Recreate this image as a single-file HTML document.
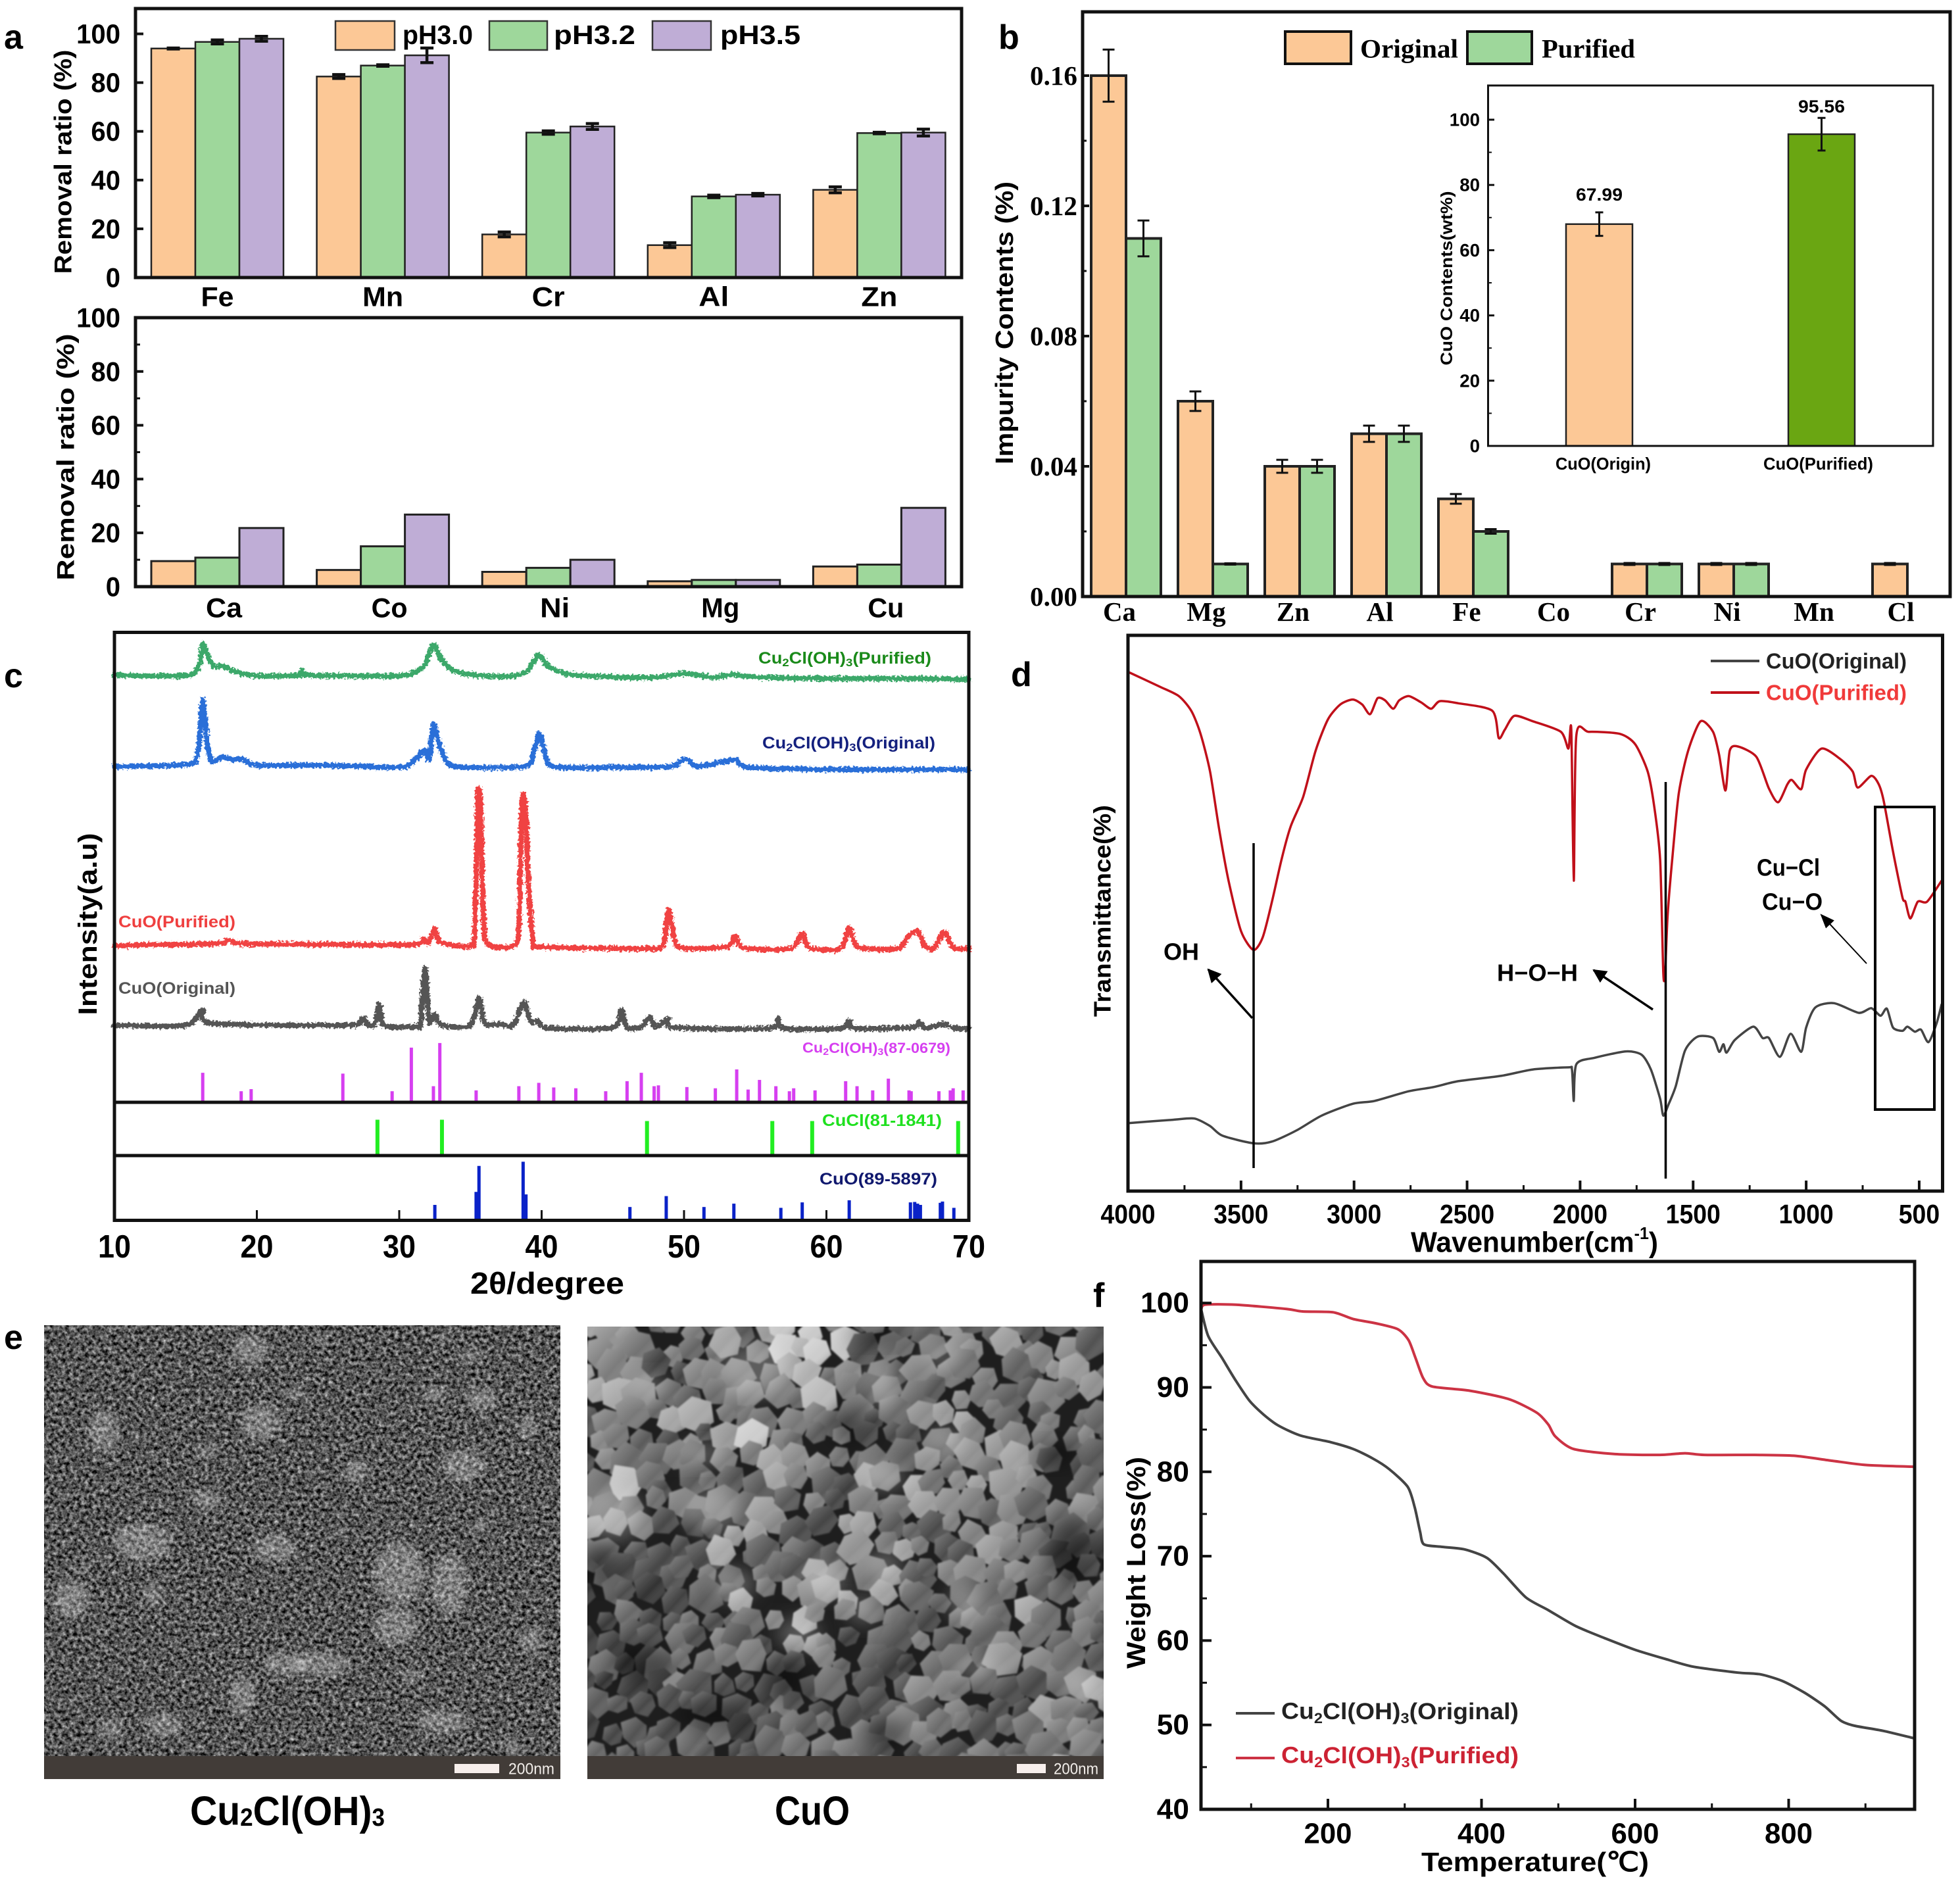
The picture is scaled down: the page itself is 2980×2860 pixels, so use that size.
<!DOCTYPE html>
<html lang="en">
<head>
<meta charset="utf-8">
<title>Multi-panel materials characterization figure</title>
<style>
html,body{margin:0;padding:0;background:#fff;}
svg{display:block;}
text{font-family:"Liberation Sans",Arial,sans-serif;dominant-baseline:central;}
.b{font-weight:bold;}
.serif{font-family:"Liberation Serif","Times New Roman",serif;font-weight:bold;}
</style>
</head>
<body>
<svg id="fig" xmlns="http://www.w3.org/2000/svg" width="2980" height="2860" viewBox="0 0 2980 2860">
<defs>
<filter id="grain" x="0" y="0" width="100%" height="100%" color-interpolation-filters="sRGB">
<feTurbulence type="fractalNoise" baseFrequency="0.17" numOctaves="3" seed="7"/>
<feColorMatrix type="matrix" values="1.15 0 0 0 -0.24  1.15 0 0 0 -0.24  1.15 0 0 0 -0.24  0 0 0 0 1"/>
</filter>
<filter id="soft" x="-50%" y="-50%" width="200%" height="200%"><feGaussianBlur stdDeviation="5"/></filter>
<filter id="softWide" x="-50%" y="-50%" width="200%" height="200%"><feGaussianBlur stdDeviation="14"/></filter>
<filter id="soft1" x="-5%" y="-5%" width="110%" height="110%"><feGaussianBlur stdDeviation="1.2"/></filter>
<filter id="rough" x="-2%" y="-30%" width="104%" height="160%" color-interpolation-filters="sRGB">
<feTurbulence type="fractalNoise" baseFrequency="0.28" numOctaves="2" seed="4" result="n"/>
<feDisplacementMap in="SourceGraphic" in2="n" scale="9" xChannelSelector="R" yChannelSelector="G"/>
</filter>
<linearGradient id="shade" x1="0" y1="0" x2="1" y2="1">
<stop offset="0" stop-color="#fff" stop-opacity=".3"/>
<stop offset=".55" stop-color="#fff" stop-opacity="0"/>
<stop offset="1" stop-color="#000" stop-opacity=".45"/>
</linearGradient>
<clipPath id="clipL"><rect x="67" y="2015" width="785" height="655"/></clipPath>
<clipPath id="clipR"><rect x="893" y="2017" width="785" height="653"/></clipPath>
<marker id="arrowHead" viewBox="0 0 10 10" refX="9" refY="5" markerWidth="6" markerHeight="6" orient="auto"><path d="M0 0L10 5L0 10z" fill="#000"/></marker>
<marker id="arrowHeadThin" viewBox="0 0 10 10" refX="9" refY="5" markerWidth="11" markerHeight="11" orient="auto"><path d="M0 1L10 5L0 9z" fill="#000"/></marker>
</defs>
<rect x="0" y="0" width="2980" height="2860" fill="#fff"/>

<!-- SEM images -->
<g clip-path="url(#clipL)">
<rect x="67" y="2015" width="785" height="655" filter="url(#grain)"/>
<g id="semLeftBlobs"></g>
</g>
<rect x="67" y="2670" width="785" height="35" fill="#423c38"/>
<rect x="691" y="2682" width="68" height="14" fill="#f7efec"/>
<text x="773" y="2690" font-size="24" fill="#f2eeea" textLength="70" lengthAdjust="spacingAndGlyphs">200nm</text>
<g clip-path="url(#clipR)">
<rect x="893" y="2017" width="785" height="653" fill="#1e1e1e"/>
<g id="semRight" filter="url(#soft1)"></g>
<g id="semRightLight"></g>
</g>
<rect x="893" y="2670" width="785" height="35" fill="#423c38"/>
<rect x="1546" y="2682" width="44" height="14" fill="#f7efec"/>
<text x="1602" y="2690" font-size="24" fill="#f2eeea" textLength="68" lengthAdjust="spacingAndGlyphs">200nm</text>
<text class="b" x="289" y="2754" font-size="62" textLength="296" lengthAdjust="spacingAndGlyphs">Cu<tspan font-size="38" dy="10">2</tspan><tspan dy="-10">Cl(OH)</tspan><tspan font-size="38" dy="10">3</tspan></text>
<text class="b" x="1178" y="2754" font-size="62" textLength="114" lengthAdjust="spacingAndGlyphs">CuO</text>

<!-- panel letters -->
<text class="b" x="6" y="57" font-size="52">a</text>
<text class="b" x="1518" y="57" font-size="52">b</text>
<text class="b" x="6" y="1028" font-size="52">c</text>
<text class="b" x="1537" y="1026" font-size="52">d</text>
<text class="b" x="6" y="2034" font-size="52">e</text>
<text class="b" x="1662" y="1970" font-size="52">f</text>

<!-- static titles: panel a -->
<text class="b" transform="translate(96,246) rotate(-90)" text-anchor="middle" font-size="37" textLength="341" lengthAdjust="spacingAndGlyphs">Removal ratio (%)</text>
<text class="b" transform="translate(100,695) rotate(-90)" text-anchor="middle" font-size="37" textLength="375" lengthAdjust="spacingAndGlyphs">Removal ratio (%)</text>
<g>
<rect x="510" y="32" width="90" height="44" fill="#FCC896" stroke="#333" stroke-width="2.5"/>
<text class="b" x="612" y="53" font-size="41" textLength="107" lengthAdjust="spacingAndGlyphs">pH3.0</text>
<rect x="744" y="32" width="88" height="44" fill="#9ED79B" stroke="#333" stroke-width="2.5"/>
<text class="b" x="842" y="53" font-size="41" textLength="124" lengthAdjust="spacingAndGlyphs">pH3.2</text>
<rect x="992" y="32" width="89" height="44" fill="#BFADD6" stroke="#333" stroke-width="2.5"/>
<text class="b" x="1095" y="53" font-size="41" textLength="122" lengthAdjust="spacingAndGlyphs">pH3.5</text>
</g>

<!-- static titles: panel b -->
<text class="b" transform="translate(1528,491) rotate(-90)" text-anchor="middle" font-size="38" textLength="430" lengthAdjust="spacingAndGlyphs">Impurity Contents (%)</text>
<g>
<rect x="1954" y="48" width="100" height="49" fill="#FCC896" stroke="#111" stroke-width="4"/>
<text class="serif" x="2068" y="74" font-size="40" textLength="149" lengthAdjust="spacingAndGlyphs">Original</text>
<rect x="2231" y="48" width="98" height="49" fill="#9ED79B" stroke="#111" stroke-width="4"/>
<text class="serif" x="2344" y="74" font-size="40" textLength="142" lengthAdjust="spacingAndGlyphs">Purified</text>
</g>
<text class="b" transform="translate(2200,423) rotate(-90)" text-anchor="middle" font-size="25" textLength="265" lengthAdjust="spacingAndGlyphs">CuO Contents(wt%)</text>

<!-- static titles: panel c -->
<text class="b" x="832" y="1951" text-anchor="middle" font-size="46" textLength="234" lengthAdjust="spacingAndGlyphs">2θ/degree</text>
<text class="b" transform="translate(134,1405) rotate(-90)" text-anchor="middle" font-size="40" textLength="277" lengthAdjust="spacingAndGlyphs">Intensity(a.u)</text>
<text class="b" x="1153" y="1001" font-size="25" fill="#1a8a1a" textLength="263" lengthAdjust="spacingAndGlyphs">Cu<tspan font-size="17" dy="6">2</tspan><tspan dy="-6">Cl(OH)</tspan><tspan font-size="17" dy="6">3</tspan><tspan dy="-6">(Purified)</tspan></text>
<text class="b" x="1159" y="1130" font-size="25" fill="#14207e" textLength="263" lengthAdjust="spacingAndGlyphs">Cu<tspan font-size="17" dy="6">2</tspan><tspan dy="-6">Cl(OH)</tspan><tspan font-size="17" dy="6">3</tspan><tspan dy="-6">(Original)</tspan></text>
<text class="b" x="180" y="1402" font-size="25" fill="#ef3f3f" textLength="178" lengthAdjust="spacingAndGlyphs">CuO(Purified)</text>
<text class="b" x="180" y="1503" font-size="25" fill="#555" textLength="178" lengthAdjust="spacingAndGlyphs">CuO(Original)</text>
<text class="b" x="1220" y="1593" font-size="22" fill="#d63ff0" textLength="225" lengthAdjust="spacingAndGlyphs">Cu<tspan font-size="15" dy="6">2</tspan><tspan dy="-6">Cl(OH)</tspan><tspan font-size="15" dy="6">3</tspan><tspan dy="-6">(87-0679)</tspan></text>
<text class="b" x="1250" y="1704" font-size="25" fill="#1fe01f" textLength="182" lengthAdjust="spacingAndGlyphs">CuCl(81-1841)</text>
<text class="b" x="1246" y="1793" font-size="25" fill="#10186e" textLength="179" lengthAdjust="spacingAndGlyphs">CuO(89-5897)</text>

<!-- static titles: panel d -->
<text class="b" x="2145" y="1889" font-size="44" textLength="376" lengthAdjust="spacingAndGlyphs">Wavenumber(cm<tspan font-size="26" dy="-14">-1</tspan><tspan dy="14">)</tspan></text>
<text class="b" transform="translate(1676,1385) rotate(-90)" text-anchor="middle" font-size="36" textLength="322" lengthAdjust="spacingAndGlyphs">Transmittance(%)</text>
<g>
<line x1="2601" y1="1005" x2="2675" y2="1005" stroke="#444" stroke-width="4"/>
<text class="b" x="2685" y="1005" font-size="33" fill="#222" textLength="214" lengthAdjust="spacingAndGlyphs">CuO(Original)</text>
<line x1="2601" y1="1053" x2="2675" y2="1053" stroke="#c0101a" stroke-width="4"/>
<text class="b" x="2685" y="1053" font-size="33" fill="#f03a3a" textLength="214" lengthAdjust="spacingAndGlyphs">CuO(Purified)</text>
</g>
<text class="b" x="1769" y="1447" font-size="36" textLength="54" lengthAdjust="spacingAndGlyphs">OH</text>
<text class="b" x="2276" y="1479" font-size="36" textLength="123" lengthAdjust="spacingAndGlyphs">H−O−H</text>
<text class="b" x="2671" y="1319" font-size="36" textLength="96" lengthAdjust="spacingAndGlyphs">Cu−Cl</text>
<text class="b" x="2679" y="1371" font-size="36" textLength="92" lengthAdjust="spacingAndGlyphs">Cu−O</text>

<!-- static titles: panel f -->
<text class="b" x="2161" y="2831" font-size="41" textLength="346" lengthAdjust="spacingAndGlyphs">Temperature(℃)</text>
<text class="b" transform="translate(1728,2376) rotate(-90)" text-anchor="middle" font-size="40" textLength="322" lengthAdjust="spacingAndGlyphs">Weight Loss(%)</text>
<g>
<line x1="1879" y1="2605" x2="1938" y2="2605" stroke="#444" stroke-width="4"/>
<text class="b" x="1948" y="2602" font-size="35" fill="#222" textLength="361" lengthAdjust="spacingAndGlyphs">Cu<tspan font-size="22" dy="10">2</tspan><tspan dy="-10">Cl(OH)</tspan><tspan font-size="22" dy="10">3</tspan><tspan dy="-10">(Original)</tspan></text>
<line x1="1879" y1="2673" x2="1938" y2="2673" stroke="#cc3344" stroke-width="4"/>
<text class="b" x="1948" y="2669" font-size="35" fill="#cc2233" textLength="361" lengthAdjust="spacingAndGlyphs">Cu<tspan font-size="22" dy="10">2</tspan><tspan dy="-10">Cl(OH)</tspan><tspan font-size="22" dy="10">3</tspan><tspan dy="-10">(Purified)</tspan></text>
</g>
<g id="marks"></g>
</svg>

<script>
// ---- Panel a data ----
const aTopCategories = ['Fe','Mn','Cr','Al','Zn'];
const aTopPH30 = [94,82.5,17.7,13.3,36];
const aTopPH32 = [96.7,87,59.5,33.3,59.3];
const aTopPH35 = [98,91.2,62,34,59.5];
const aTopErr30 = [0.2,0.8,1,1,1.2];
const aTopErr32 = [0.8,0.3,0.7,0.5,0.3];
const aTopErr35 = [1,3,1.2,0.5,1.4];
const aBottomCategories = ['Ca','Co','Ni','Mg','Cu'];
const aBottomPH30 = [9.5,6.2,5.5,2,7.5];
const aBottomPH32 = [10.8,15,7,2.5,8.2];
const aBottomPH35 = [21.8,26.8,10,2.5,29.3];
const aTopTicks = [0,20,40,60,80,100];
const aBottomTicks = [0,20,40,60,80,100];
// ---- Panel b data ----
const bCategories = ['Ca','Mg','Zn','Al','Fe','Co','Cr','Ni','Mn','Cl'];
const bOriginal = [0.16,0.06,0.04,0.05,0.03,0,0.01,0.01,0,0.01];
const bPurified = [0.11,0.01,0.04,0.05,0.02,0,0.01,0.01,0,0];
const bErrOriginal = [0.008,0.003,0.002,0.0025,0.0015,0,0.0003,0.0003,0,0.0003];
const bErrPurified = [0.0055,0.0002,0.002,0.0025,0.0007,0,0.0003,0.0003,0,0];
const bTicks = [0,0.04,0.08,0.12,0.16];
const insetCategories = ['CuO(Origin)','CuO(Purified)'];
const insetValues = [67.99,95.56];
const insetErrors = [3.6,5];
const insetTicks = [0,20,40,60,80,100];
// ---- Panel c data: two-theta and intensity (a.u.) ----
const xrdTicks = [10,20,30,40,50,60,70];
const greenTheta = [10,14,15.5,16,16.2,16.5,17,17.6,18.5,20,23,23.2,23.4,28,30,31,31.8,32.4,33,34,36,38,39,39.8,40.5,42,45,48,50,52,53.5,55,60,65,70];
const greenInt = [1300,1298,1302,1330,1375,1350,1320,1322,1308,1298,1300,1312,1300,1298,1298,1305,1325,1372,1335,1308,1298,1298,1310,1348,1320,1302,1296,1294,1304,1295,1302,1295,1292,1292,1290];
const blueTheta = [10,14,15.6,15.95,16.2,16.45,16.8,17.6,18.2,19,20,25,30,31,31.8,32.1,32.4,32.7,33.2,34,38,39.2,39.8,40.2,40.8,45,49,50.1,51,53.5,54.5,60,65,70];
const blueInt = [1082,1085,1092,1140,1242,1160,1095,1105,1098,1100,1085,1085,1080,1095,1122,1100,1182,1150,1100,1082,1080,1090,1160,1120,1082,1080,1082,1100,1082,1098,1080,1075,1075,1075];
const redTheta = [10,17,18,19,25,31,31.7,32,32.5,32.8,34,35,35.3,35.5,35.6,35.7,35.95,36.4,38,38.4,38.6,38.75,38.9,39.05,39.4,40,47,48.5,48.9,49.3,49.8,53,53.6,54.2,57.5,58.3,58.8,61,61.6,62.2,65,65.7,66.4,66.9,67.5,68.3,68.9,70];
const redInt = [655,660,668,660,658,658,672,660,695,665,655,655,680,1000,1025,1000,700,655,655,700,980,1015,960,820,665,652,648,655,740,675,650,652,678,650,648,685,650,648,698,652,648,675,690,655,648,688,650,648];
const darkTheta = [10,15,16.2,16.8,25,27,27.5,27.8,28.3,28.6,28.9,31,31.5,31.8,32.1,32.5,33,35,35.6,36,37,38,38.75,39.2,39.7,40.5,45,45.6,46,47,47.6,48,48.9,49.3,56,56.6,57,61,61.6,62,66,66.5,67,68.2,69,70];
const darkInt = [465,465,502,470,465,467,482,465,470,515,465,462,470,602,475,490,465,465,530,470,468,465,520,475,475,458,460,502,460,462,485,462,480,460,458,482,458,458,475,458,460,472,458,468,458,458];
const magentaTheta = [16.2,18.9,19.6,26.04,29.5,30.85,32.4,32.85,35.4,38.4,39.8,40.85,42.4,44.5,46,47,47.9,48.2,50.2,52.2,53.7,54.5,55.3,56.45,57.4,57.7,59.2,61.35,62.15,63.25,64.35,65.8,65.95,67.9,68.7,68.9,69.6];
const magentaTop = [352,308,313,350,308,412,320,423,310,320,328,317,315,308,332,352,320,322,318,315,360,312,335,320,308,315,310,332,320,310,338,310,308,308,310,315,310];
const magentaBase = 284;
const limeTheta = [28.47,33,47.4,56.2,59,69.25];
const limeTop = [240,240,237,237,237,237];
const limeBase = 158;
const navyTheta = [32.5,35.4,35.6,38.7,38.9,46.2,48.75,51.4,53.5,56.8,58.3,61.6,65.9,66.2,66.4,66.6,68,68.15,68.95];
const navyTop = [37,68,130,140,62,32,58,32,40,30,43,48,43,44,40,37,42,45,30];
const navyBase = 2;
// ---- Panel d data: wavenumber and transmittance (a.u.) ----
const ftirTicks = [4000,3500,3000,2500,2000,1500,1000,500];
const ftirRedWave = [4000,3857,3775,3720,3679,3637,3596,3555,3500,3445,3404,3363,3321,3280,3225,3170,3115,3061,3006,2964,2929,2896,2863,2827,2800,2758,2703,2659,2621,2539,2388,2360,2333,2291,2209,2085,2052,2039,2028,2017,1962,1824,1756,1701,1673,1646,1632,1624,1613,1591,1563,1522,1467,1412,1385,1357,1338,1302,1220,1165,1124,1083,1063,1022,1000,932,849,794,772,712,679,657,616,574,561,539,506,465,401];
const ftirRedT = [1238,1202,1180,1145,1090,1000,860,740,620,575,605,690,790,870,940,1050,1125,1160,1172,1160,1137,1175,1170,1150,1170,1180,1165,1150,1168,1163,1145,1080,1100,1133,1120,1095,1055,1100,740,1085,1095,1090,1065,1000,920,790,520,520,655,800,950,1050,1120,1095,1040,955,1050,1060,1035,960,927,970,980,958,1005,1055,1030,1000,962,990,970,930,810,700,690,650,690,690,740];
const ftirBlackWave = [4000,3802,3706,3637,3582,3445,3363,3253,3143,3006,2909,2758,2648,2539,2346,2209,2052,2036,2028,2017,1934,1797,1728,1687,1646,1632,1610,1577,1536,1481,1412,1385,1366,1352,1316,1234,1193,1165,1116,1069,1022,1000,959,877,767,712,671,643,616,574,552,519,492,459,423,401];
const ftirBlackT = [162,170,173,155,132,114,118,145,180,208,215,238,248,262,275,290,295,290,215,302,318,333,325,290,220,180,205,250,335,368,365,332,350,330,360,392,365,365,320,375,332,390,438,448,425,436,418,435,390,382,392,380,385,355,400,445];
// ---- Panel f data: temperature and weight ----
const tgaXTicks = [200,400,600,800];
const tgaYTicks = [40,50,60,70,80,90,100];
const tgaBlackT = [35,44,62,80,98,116,135,164,204,233,258,280,304,313,320,325,349,378,407,429,458,487,523,560,600,640,676,734,763,792,821,847,868,886,923,964];
const tgaBlackW = [99.2,96.1,93.5,90.8,88.4,86.8,85.5,84.3,83.5,82.7,81.6,80.3,78.2,75.8,72.9,71.4,71.1,70.8,69.8,67.9,65.1,63.6,61.7,60.3,58.9,57.8,56.9,56.2,56,55.2,53.8,52.2,50.5,49.9,49.3,48.4];
const tgaRedT = [35,40,80,146,167,207,233,262,291,305,314,324,336,385,436,472,487,496,520,574,632,665,690,756,807,857,901,964];
const tgaRedW = [99.2,99.8,99.8,99.3,99,98.9,98.1,97.6,96.9,95.6,93.5,91.1,90.1,89.6,88.6,87,85.6,84.2,82.7,82.1,82,82.2,82,82,81.9,81.3,80.8,80.6];

const NS = 'http://www.w3.org/2000/svg';
const root = document.getElementById('marks');
function add(tag, attrs, name, parent) {
  const el = document.createElementNS(NS, tag);
  for (const k in attrs) el.setAttribute(k, attrs[k]);
  
  
  (parent || root).appendChild(el);
  return el;
}
function label(x, y, str, size, cls, anchor, len, name) {
  const a = {x: x, y: y, 'font-size': size, 'text-anchor': anchor, 'class': cls};
  if (len) { a.textLength = len; a.lengthAdjust = 'spacingAndGlyphs'; }
  const t = add('text', a, name);
  t.textContent = str;
  return t;
}
function tick(x1, y1, x2, y2, w, name) {
  add('line', {x1: x1, y1: y1, x2: x2, y2: y2, stroke: '#111', 'stroke-width': w}, name);
}
function frame(x, y, w, h, sw, name) {
  add('rect', {x: x, y: y, width: w, height: h, fill: 'none', stroke: '#111', 'stroke-width': sw}, name);
}
function bar(x, yTop, w, yBase, fill, sw, name) {
  add('rect', {x: x, y: yTop, width: w, height: yBase - yTop, fill: fill, stroke: '#222', 'stroke-width': sw}, name);
}
function errBar(cx, y1, y2, cap, sw, name) {
  add('path', {d: 'M' + (cx - cap) + ' ' + y1 + 'H' + (cx + cap) + 'M' + cx + ' ' + y1 + 'V' + y2 + 'M' + (cx - cap) + ' ' + y2 + 'H' + (cx + cap), fill: 'none', stroke: '#111', 'stroke-width': sw}, name);
}
// smooth path through the data points (Catmull-Rom segments)
function curve(xs, ys, xf, yf, color, sw, name, extra) {
  const px = xs.map(xf);
  const py = ys.map(yf);
  let d = 'M' + px[0].toFixed(1) + ' ' + py[0].toFixed(1);
  const k = 1 / 8;
  for (let i = 0; i < px.length - 1; i++) {
    const a = Math.max(i - 1, 0);
    const b = Math.min(i + 2, px.length - 1);
    const c1x = px[i] + (px[i + 1] - px[a]) * k;
    const c1y = py[i] + (py[i + 1] - py[a]) * k;
    const c2x = px[i + 1] - (px[b] - px[i]) * k;
    const c2y = py[i + 1] - (py[b] - py[i]) * k;
    d += 'C' + c1x.toFixed(1) + ' ' + c1y.toFixed(1) + ' ' + c2x.toFixed(1) + ' ' + c2y.toFixed(1) + ' ' + px[i + 1].toFixed(1) + ' ' + py[i + 1].toFixed(1);
  }
  const attrs = {d: d, fill: 'none', stroke: color, 'stroke-width': sw, 'stroke-linejoin': 'round', 'stroke-linecap': 'round'};
  if (extra) attrs.filter = extra;
  add('path', attrs, name);
}

// ---- Panel a ----
const PEACH = '#FCC896', GREEN = '#9ED79B', PURPLE = '#BFADD6';
const aX = function (g, s) { return 230 + g * 251.6 + s * 67; };
const aTopY = function (v) { return 422 - v * 3.705; };
const aBotY = function (v) { return 892 - v * 4.09; };
const aColors = [PEACH, GREEN, PURPLE];
[aTopPH30, aTopPH32, aTopPH35].forEach(function (series, s) {
  const errs = [aTopErr30, aTopErr32, aTopErr35][s];
  series.forEach(function (v, g) {
    bar(aX(g, s), aTopY(v), 67, 422, aColors[s], 2.5, 'bar-top-' + aTopCategories[g] + '-' + s);
    errBar(aX(g, s) + 33.5, aTopY(v + errs[g]), aTopY(v - errs[g]), 10, 4.5, 'error-bar-top-' + aTopCategories[g] + '-' + s);
  });
});
[aBottomPH30, aBottomPH32, aBottomPH35].forEach(function (series, s) {
  series.forEach(function (v, g) {
    bar(aX(g, s), aBotY(v), 67, 892, aColors[s], 3, 'bar-bottom-' + aBottomCategories[g] + '-' + s);
  });
});
frame(206, 13, 1256, 409, 5, 'a-top-plot-frame');
frame(206, 483, 1256, 409, 5, 'a-bottom-plot-frame');
aTopTicks.forEach(function (v) {
  tick(206, aTopY(v), 218, aTopY(v), 4, 'a-top-y-tick');
  label(183, aTopY(v), String(v), 42, 'b', 'end', String(v).length * 22.3, 'a-top-y-tick-label');
});
aBottomTicks.forEach(function (v) {
  tick(206, aBotY(v), 218, aBotY(v), 4, 'a-bottom-y-tick');
  if (v < 100) tick(206, aBotY(v + 10), 213, aBotY(v + 10), 3, 'a-bottom-y-minor-tick');
  label(183, aBotY(v), String(v), 42, 'b', 'end', String(v).length * 22.3, 'a-bottom-y-tick-label');
});
const aTopLabelWidths = [50, 62, 50, 46, 55];
const aBottomLabelWidths = [55, 55, 45, 58, 55];
aTopCategories.forEach(function (c, g) { label(aX(g, 1) + 33.5, 451, c, 42, 'b', 'middle', aTopLabelWidths[g], 'a-top-category-label'); });
aBottomCategories.forEach(function (c, g) { label(aX(g, 1) + 43.5, 924, c, 42, 'b', 'middle', aBottomLabelWidths[g], 'a-bottom-category-label'); });

// ---- Panel b ----
const bX = function (g, s) { return 1659 + g * 132 + s * 53; };
const bY = function (v) { return 907 - v * 4950; };
[bOriginal, bPurified].forEach(function (series, s) {
  const errs = s ? bErrPurified : bErrOriginal;
  series.forEach(function (v, g) {
    if (v <= 0) return;
    bar(bX(g, s), bY(v), 53, 907, s ? GREEN : PEACH, 4, 'bar-' + bCategories[g] + (s ? '-purified' : '-original'));
    errBar(bX(g, s) + 26.5, bY(v + errs[g]), bY(v - errs[g]), 9, 3, 'error-bar-' + bCategories[g] + (s ? '-purified' : '-original'));
  });
});
frame(1646, 18, 1319, 889, 5, 'b-plot-frame');
bTicks.forEach(function (v) {
  tick(1646, bY(v), 1656, bY(v), 4, 'b-y-tick');
  if (v < 0.16) tick(1646, bY(v + 0.02), 1652, bY(v + 0.02), 3, 'b-y-minor-tick');
  label(1638, bY(v), v.toFixed(2), 41, 'serif', 'end', 72, 'b-y-tick-label');
});
bCategories.forEach(function (c, g) { label(bX(g, 1) - 10, 930, c, 41, 'serif', 'middle', null, 'b-category-label'); });
// inset
add('rect', {x: 2262, y: 130, width: 677, height: 548, fill: '#fff', stroke: 'none'}, 'inset-background');
const inX = [2381, 2719];
const inY = function (v) { return 678 - v * 4.96; };
const insetColors = [PEACH, '#6AA612'];
const insetLabelShift = [56.5, 45.5];
insetValues.forEach(function (v, i) {
  bar(inX[i], inY(v), 101, 678, insetColors[i], 2.5, 'inset-bar-' + i);
  errBar(inX[i] + 50.5, inY(v + insetErrors[i]), inY(v - insetErrors[i]), 6, 3, 'inset-error-bar-' + i);
  label(inX[i] + 50.5, inY(v + insetErrors[i]) - (i ? 17 : 27), v.toFixed(2), 27, 'b', 'middle', 71, 'inset-value-label');
  label(inX[i] + insetLabelShift[i], 705, insetCategories[i], 26, 'b', 'middle', i ? 167 : 145, 'inset-category-label');
});
frame(2262.5, 130, 676.5, 548, 3, 'inset-plot-frame');
insetTicks.forEach(function (v) {
  tick(2262, inY(v), 2272, inY(v), 3, 'inset-y-tick');
  if (v < 100) tick(2262, inY(v + 10), 2268, inY(v + 10), 2, 'inset-y-minor-tick');
  label(2250, inY(v), String(v), 28, 'b', 'end', String(v).length * 15.4, 'inset-y-tick-label');
});

// ---- Panel c ----
const xrdX = function (t) { return 174 + (t - 10) * 21.65; };
const xrdY = function (v) { return 1855.6 - v / 1.568; };
curve(greenTheta, greenInt, xrdX, xrdY, '#3CA86A', 8, 'xrd-curve-cu2cl-purified', 'url(#rough)');
curve(blueTheta, blueInt, xrdX, xrdY, '#2A6FD8', 8, 'xrd-curve-cu2cl-original', 'url(#rough)');
curve(redTheta, redInt, xrdX, xrdY, '#F04242', 8, 'xrd-curve-cuo-purified', 'url(#rough)');
curve(darkTheta, darkInt, xrdX, xrdY, '#555555', 8, 'xrd-curve-cuo-original', 'url(#rough)');
magentaTheta.forEach(function (t, i) {
  add('line', {x1: xrdX(t), x2: xrdX(t), y1: xrdY(magentaTop[i]), y2: xrdY(magentaBase), stroke: '#D63FF0', 'stroke-width': 5}, 'reference-stick-cu2cl');
});
limeTheta.forEach(function (t, i) {
  add('line', {x1: xrdX(t), x2: xrdX(t), y1: xrdY(limeTop[i]), y2: xrdY(limeBase), stroke: '#22EE22', 'stroke-width': 6}, 'reference-stick-cucl');
});
xrdTicks.forEach(function (t) {
  if (t > 10 && t < 70) tick(xrdX(t), 1856, xrdX(t), 1840, 3, 'c-x-tick');
  label(xrdX(t), 1896, String(t), 49, 'b', 'middle', 50, 'c-x-tick-label');
});
navyTheta.forEach(function (t, i) {
  add('line', {x1: xrdX(t), x2: xrdX(t), y1: xrdY(navyTop[i]), y2: xrdY(navyBase), stroke: '#0A22C8', 'stroke-width': 5}, 'reference-stick-cuo');
});
frame(174, 961.5, 1299, 894, 5, 'c-plot-frame');
add('line', {x1: 174, x2: 1473, y1: 1676, y2: 1676, stroke: '#111', 'stroke-width': 5}, 'c-divider-upper');
add('line', {x1: 174, x2: 1473, y1: 1757, y2: 1757, stroke: '#111', 'stroke-width': 5}, 'c-divider-lower');

// ---- Panel d ----
const ftirX = function (w) { return 1715 + (4000 - w) * 0.3437; };
const ftirY = function (t) { return 1811 - t / 1.568; };
curve(ftirBlackWave, ftirBlackT, ftirX, ftirY, '#444444', 3.5, 'ftir-curve-cuo-original');
curve(ftirRedWave, ftirRedT, ftirX, ftirY, '#C0101A', 3.5, 'ftir-curve-cuo-purified');
frame(1715, 966, 1238.5, 845, 5, 'd-plot-frame');
ftirTicks.forEach(function (w) {
  tick(ftirX(w), 1811, ftirX(w), 1795, 4, 'd-x-tick');
  if (w > 500) tick(ftirX(w - 250), 1811, ftirX(w - 250), 1802, 3, 'd-x-minor-tick');
  label(ftirX(w), 1846, String(w), 41, 'b', 'middle', String(w).length * 20.8, 'd-x-tick-label');
});
add('line', {x1: 1906, x2: 1906, y1: 1282, y2: 1776, stroke: '#000', 'stroke-width': 3.5}, 'oh-marker-line');
add('line', {x1: 2532.5, x2: 2532.5, y1: 1189, y2: 1792, stroke: '#000', 'stroke-width': 3.5}, 'h-o-h-marker-line');
add('rect', {x: 2851, y: 1227, width: 90, height: 460, fill: 'none', stroke: '#000', 'stroke-width': 4}, 'cu-bond-highlight-box');
add('line', {x1: 1904, y1: 1548, x2: 1837, y2: 1474, stroke: '#000', 'stroke-width': 3.5, 'marker-end': 'url(#arrowHead)'}, 'oh-arrow');
add('line', {x1: 2513, y1: 1535, x2: 2423, y2: 1475, stroke: '#000', 'stroke-width': 3.5, 'marker-end': 'url(#arrowHead)'}, 'h-o-h-arrow');
add('line', {x1: 2838, y1: 1465, x2: 2769, y2: 1391, stroke: '#000', 'stroke-width': 2, 'marker-end': 'url(#arrowHeadThin)'}, 'cu-o-arrow');

// ---- Panel f ----
const tgaX = function (t) { return 2019 + (t - 200) * 1.1675; };
const tgaY = function (w) { return 2751 - (w - 40) * 12.83; };
curve(tgaBlackT, tgaBlackW, tgaX, tgaY, '#444444', 4, 'tga-curve-original');
curve(tgaRedT, tgaRedW, tgaX, tgaY, '#CC3344', 4, 'tga-curve-purified');
frame(1826, 1918, 1085, 833, 5, 'f-plot-frame');
tgaXTicks.forEach(function (t) {
  tick(tgaX(t), 2751, tgaX(t), 2735, 4, 'f-x-tick');
  tick(tgaX(t - 100), 2751, tgaX(t - 100), 2742, 3, 'f-x-minor-tick');
  label(tgaX(t), 2788, String(t), 44, 'b', 'middle', 73, 'f-x-tick-label');
});
tick(tgaX(900), 2751, tgaX(900), 2742, 3, 'f-x-minor-tick');
tgaYTicks.forEach(function (w) {
  tick(1826, tgaY(w), 1842, tgaY(w), 4, 'f-y-tick');
  if (w < 100) tick(1826, tgaY(w + 5), 1835, tgaY(w + 5), 3, 'f-y-minor-tick');
  label(1808, tgaY(w), String(w), 44, 'b', 'end', String(w).length * 24.6, 'f-y-tick-label');
});

// ---- SEM left: bright agglomerates (cx, cy, rx, ry in zoomed crop units) ----
const semLeftBlobs = [[350,175,25,40],[675,305,20,30],[145,390,20,55],[365,365,28,45],[290,445,15,15],[650,480,30,40],[290,570,20,25],[200,680,40,50],[385,695,30,35],[560,760,35,80],[630,790,25,80],[555,900,30,50],[745,940,15,30],[340,1080,18,50],[155,1170,15,25],[718,1215,10,20],[100,830,25,50],[215,820,12,30],[675,640,12,15],[450,150,8,10],[500,495,15,30],[415,290,15,12],[620,145,10,10],[660,190,15,15],[575,1030,15,15],[480,650,6,10],[120,740,6,15],[400,1000,30,30],[610,295,15,20],[740,380,12,30],[450,1000,40,30],[230,1160,25,30],[620,1150,35,30]];
const leftBlobGroup = document.getElementById('semLeftBlobs');
semLeftBlobs.forEach(function (b) {
  add('ellipse', {cx: b[0] / 0.9224, cy: 1950 + b[1] / 1.723, rx: b[2] / 0.9224, ry: b[3] / 1.723, fill: '#fff', opacity: 0.26, filter: 'url(#soft)', style: 'mix-blend-mode:screen'}, 'sem-agglomerate', leftBlobGroup);
});

// ---- SEM right: faceted particles shaded from a coarse brightness map ----
const semRightBrightness = [
  [130,105,130,165,110,120,125,125],
  [135,150,120,165,100,130,110,125],
  [110,100,165,110,85,135,130,100],
  [165,110,135,100,125,130,125,110],
  [135,90,135,100,135,120,125,75],
  [85,100,135,125,125,125,135,100],
  [65,90,100,135,90,100,115,115],
  [80,100,85,90,80,115,115,140],
  [85,90,90,100,100,100,105,125]
];
const rightGroup = document.getElementById('semRight');
function pseudo(i) { const s = Math.sin(i * 127.1 + 11.7) * 43758.5453; return s - Math.floor(s); }
const cell = 34;
let idx = 1;
for (let row = 0; row < 21; row++) {
  for (let col = 0; col < 25; col++) {
    const cx = 893 + col * cell + (row % 2) * cell / 2 + (pseudo(idx++) - 0.5) * 24;
    const cy = 2017 + row * cell + (pseudo(idx++) - 0.5) * 24;
    const r = 15 + pseudo(idx++) * 15;
    const mc = Math.min(7, Math.max(0, Math.floor((cx - 893) / 98.2)));
    const mr = Math.min(8, Math.max(0, Math.floor((cy - 2017) / 72.6)));
    const g = Math.round(semRightBrightness[mr][mc] * (0.58 + pseudo(idx++) * 0.7));
    const rot = pseudo(idx++) * 6.28;
    let pts = '';
    for (let k = 0; k < 6; k++) {
      const a = rot + k * 1.047;
      const rr = r * (0.85 + pseudo(idx + k) * 0.3);
      pts += (cx + rr * Math.cos(a)).toFixed(1) + ',' + (cy + rr * Math.sin(a)).toFixed(1) + ' ';
    }
    idx += 6;
    add('polygon', {points: pts, fill: 'rgb(' + g + ',' + g + ',' + g + ')'}, 'sem-particle', rightGroup);
    add('polygon', {points: pts, fill: 'url(#shade)'}, 'sem-particle-shading', rightGroup);
  }
}
// bright clusters and dark voids (cx, cy, rx, ry in zoomed crop units)
const semRightBright = [[985,450,30,30],[860,610,40,70],[1060,230,50,70],[1235,270,25,60],[1325,415,25,35],[1160,780,30,40],[1210,860,20,35],[1355,840,25,45],[1120,920,30,40],[1240,510,30,35],[1320,195,25,30],[910,270,25,30],[1000,600,40,60],[1030,790,30,40],[1515,1060,25,40],[1370,1010,30,35],[1240,740,25,40]];
const semRightDark = [[1230,140,40,25],[1500,700,30,90],[840,740,25,50],[1190,380,30,40],[1240,1180,30,40],[900,1000,40,50],[1000,1130,50,40],[1480,450,30,30],[1100,1040,30,60]];
const rightLight = document.getElementById('semRightLight');
semRightBright.forEach(function (b) {
  add('ellipse', {cx: b[0] / 0.9224, cy: 1950 + b[1] / 1.723, rx: b[2] / 0.9224, ry: b[3] / 1.723, fill: '#fff', opacity: 0.28, filter: 'url(#softWide)', style: 'mix-blend-mode:screen'}, 'sem-bright-cluster', rightLight);
});
semRightDark.forEach(function (b) {
  add('ellipse', {cx: b[0] / 0.9224, cy: 1950 + b[1] / 1.723, rx: b[2] / 0.9224, ry: b[3] / 1.723, fill: '#000', opacity: 0.38, filter: 'url(#softWide)'}, 'sem-dark-void', rightLight);
});
</script>
</body>
</html>
